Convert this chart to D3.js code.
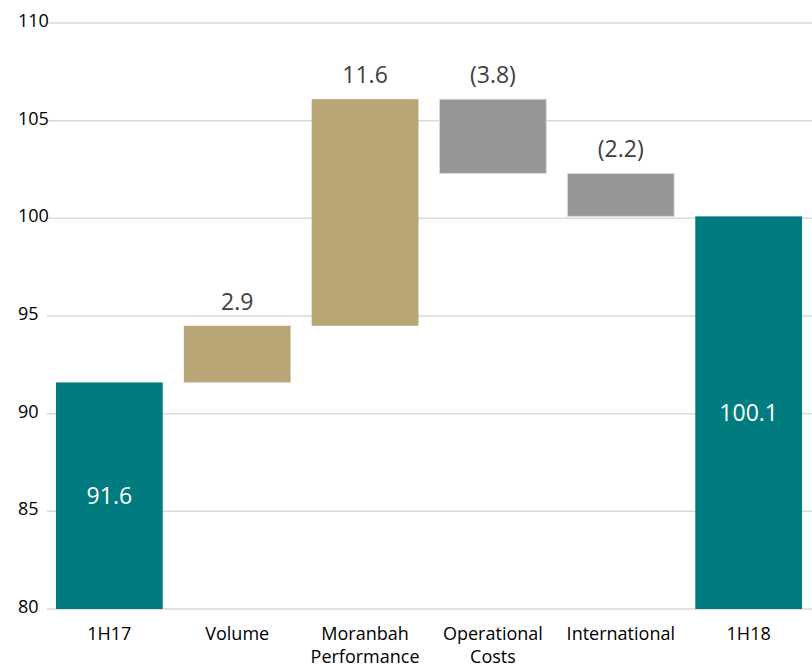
<!DOCTYPE html>
<html>
<head>
<meta charset="utf-8">
<script src="https://cdn.jsdelivr.net/npm/d3@7/dist/d3.min.js"></script>
<style>
  body { margin: 0; background: #fff; }
  text { font-family: "Open Sans", Lato, sans-serif; }
</style>
</head>
<body>
<div id="viz"></div>
<script>
// DATA
var categories = ["1H17", "Volume", "Moranbah Performance", "Operational Costs", "International", "1H18"];
var changes = [91.6, 2.9, 11.6, -3.8, -2.2, 100.1];
var kinds = ["total", "up", "up", "down", "down", "total"];
var yTicks = [80, 85, 90, 95, 100, 105, 110];

var w = 812, h = 668;

var colors = { total: "#007b7f", up: "#b9a677", down: "#969696" };

// running waterfall levels
var level = 0;
var bars = categories.map(function(c, i) {
  var start, end;
  if (kinds[i] === "total") { start = 80; end = changes[i]; level = changes[i]; }
  else { start = level; end = level + changes[i]; level = end; }
  return { name: c, value: changes[i], kind: kinds[i], lo: Math.min(start, end), hi: Math.max(start, end) };
});

var x = d3.scaleBand()
  .domain(categories)
  .range([47, 811])
  .paddingInner(0.165)
  .paddingOuter(0.07);

var y = d3.scaleLinear()
  .domain([80, 110])
  .range([609, 23]);

var svg = d3.select("#viz").append("svg")
  .attr("width", w)
  .attr("height", h);

// GRID
svg.append("g").selectAll("line")
  .data(yTicks)
  .enter().append("line")
  .attr("x1", 47).attr("x2", 812)
  .attr("y1", function(d) { return y(d); })
  .attr("y2", function(d) { return y(d); })
  .attr("stroke", "#d9d9d9")
  .attr("stroke-width", 1.5);

svg.append("g").selectAll("text")
  .data(yTicks)
  .enter().append("text")
  .attr("x", 18)
  .attr("y", function(d) { return y(d) + 4; })
  .attr("font-size", 18)
  .attr("fill", "#000")
  .text(function(d) { return d; });

// BARS
svg.append("g").selectAll("rect")
  .data(bars)
  .enter().append("rect")
  .attr("x", function(d) { return x(d.name); })
  .attr("width", x.bandwidth())
  .attr("y", function(d) { return y(d.hi); })
  .attr("height", function(d) { return y(d.lo) - y(d.hi); })
  .attr("fill", function(d) { return colors[d.kind]; })
  .attr("stroke", function(d) { return d.kind === "down" ? "#dcdcdc" : "none"; })
  .attr("stroke-width", 1);

// VALUE LABELS
svg.append("g").selectAll("text")
  .data(bars)
  .enter().append("text")
  .attr("text-anchor", "middle")
  .attr("x", function(d) { return x(d.name) + x.bandwidth() / 2; })
  .attr("y", function(d) {
    if (d.kind === "total") return (y(d.hi) + y(d.lo)) / 2 + 8;
    return y(d.hi) - 16;
  })
  .attr("font-size", 23)
  .attr("fill", function(d) { return d.kind === "total" ? "#fff" : "#404040"; })
  .text(function(d) {
    if (d.value < 0) return "(" + d3.format(".1f")(-d.value) + ")";
    return d3.format(".1f")(d.value);
  });

// CATEGORY LABELS
var cat = svg.append("g").selectAll("text")
  .data(categories)
  .enter().append("text")
  .attr("text-anchor", "middle")
  .attr("x", function(d) { return x(d) + x.bandwidth() / 2; })
  .attr("y", 640)
  .attr("font-size", 18)
  .attr("fill", "#000");

cat.each(function(d) {
  var words = d.split(" ");
  var t = d3.select(this);
  words.forEach(function(wd, i) {
    t.append("tspan")
      .attr("x", x(d) + x.bandwidth() / 2)
      .attr("dy", i === 0 ? 0 : 23)
      .text(wd);
  });
});
</script>
</body>
</html>
